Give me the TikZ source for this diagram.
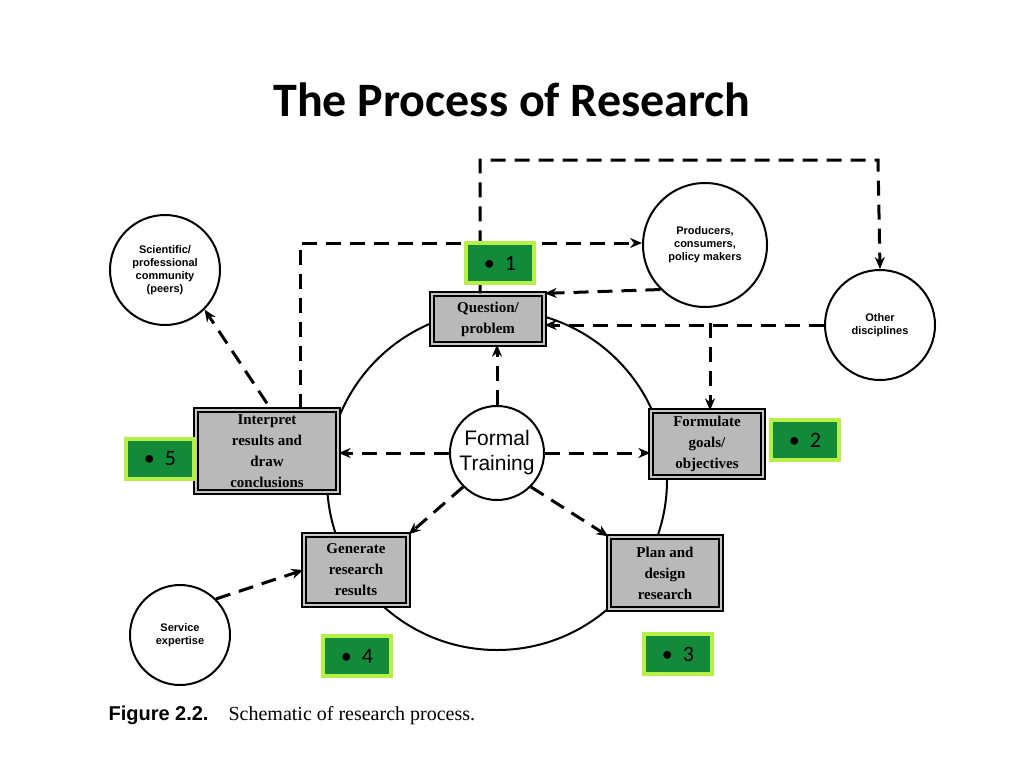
\documentclass[tikz,border=0pt]{standalone}
\usepackage{fontspec}
\setmainfont{Liberation Serif}
\newfontfamily\slidefont{Carlito}
\newfontfamily\sansfont{Liberation Sans}
\usetikzlibrary{arrows.meta}
\definecolor{tagGreen}{HTML}{128A3A}
\definecolor{tagGlow}{HTML}{B6F046}
\tikzset{
  step/.style={draw,double=gray!45,double distance=2.5pt,line width=1.3pt,fill=gray!55,
    minimum width=#1,align=center,font=\bfseries\fontsize{15}{21}\selectfont,inner sep=3pt},
  party/.style={circle,draw,line width=2pt,align=center,font=\sansfont\bfseries\fontsize{11}{13}\selectfont,minimum size=#1},
  flow/.style={line width=3pt,dash pattern=on 15pt off 9pt,-{Stealth[length=12pt,width=10pt]}},
  tag/.style={fill=tagGreen,draw=tagGlow,line width=4pt,minimum width=68pt,minimum height=40pt,font=\slidefont\fontsize{22}{24}\selectfont}
}
\begin{document}
\begin{tikzpicture}[x=1pt,y=-1pt]
    \useasboundingbox (0,0) rectangle (1024,768);
    \node[font=\slidefont\bfseries\fontsize{48}{52}\selectfont] (title) at (512,100) {The Process of Research};
    % main cycle
    \draw[line width=2pt] (497,480) circle (170);
    \node[step=112pt,minimum height=50pt] (question) at (488,319) {Question/\\problem};
    \node[step=112pt,minimum height=66pt] (goals) at (707,444) {Formulate\\goals/\\objectives};
    \node[step=112pt,minimum height=72pt] (plan) at (665,573) {Plan and\\design\\research};
    \node[step=104pt,minimum height=70pt] (results) at (356,570) {Generate\\research\\results};
    \node[step=142pt,minimum height=82pt] (interpret) at (267,451) {Interpret\\results and\\draw\\conclusions};
    \node[circle,draw,line width=2pt,fill=white,minimum size=94pt,inner sep=0pt,font=\sansfont\fontsize{21}{25}\selectfont,align=center] (training) at (497,453) {Formal\\Training};
    % outside parties
    \node[party=110pt] (peers) at (165,270) {Scientific/\\professional\\community\\(peers)};
    \node[party=124pt] (users) at (705,245) {Producers,\\consumers,\\policy makers};
    \node[party=110pt] (other) at (880,325) {Other\\disciplines};
    \node[party=100pt] (service) at (180,635) {Service\\expertise};
    \coordinate (c1) at (300,243);
    \coordinate (c2) at (480,160);
    \coordinate (c3) at (878,160);
    \coordinate (c4) at (710,323);
    % dashed links
    \draw[flow] (interpret.north -| c1) -- (c1) -- (users.west |- c1);
    \draw[flow] (question.north -| c2) -- (c2) -- (c3) -- (other.north);
    \draw[flow] (users.south west) -- (question.north east);
    \draw[flow] (other.west) -- (question.east |- other.west);
    \draw[flow] (c4) -- (goals.north -| c4);
    \draw[flow] (interpret.north) ++(0,-6) -- (peers.south east);
    \draw[flow] (training.north) -- (training.north |- question.south);
    \draw[flow] (training.west) -- (interpret.east |- training.west);
    \draw[flow] (training.east) -- (goals.west |- training.east);
    \draw[flow] (training.south east) -- (plan.north west);
    \draw[flow] (training.south west) -- (results.north east);
    \draw[flow] (service.north east) -- (results.west);
    % slide tags
    \node[tag] (tag1) at (500,263) {\textbullet\ \ 1};
    \node[tag] (tag2) at (805,440) {\textbullet\ \ 2};
    \node[tag] (tag3) at (678,654) {\textbullet\ \ 3};
    \node[tag] (tag4) at (357,656) {\textbullet\ \ 4};
    \node[tag] (tag5) at (160,459) {\textbullet\ \ 5};
    \node[anchor=west,font=\fontsize{20}{22}\selectfont] (caption) at (105,715) {{\sansfont\bfseries Figure 2.2.}\quad Schematic of research process.};
\end{tikzpicture}
\end{document}
